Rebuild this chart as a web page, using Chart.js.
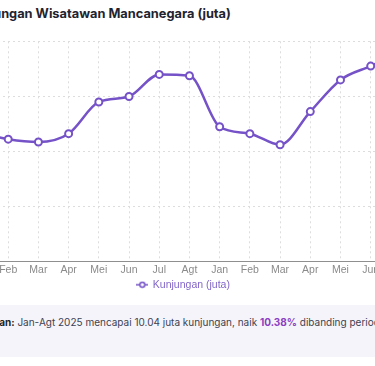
<!DOCTYPE html>
<html lang="id">
<head>
<meta charset="utf-8">
<title>Kunjungan Wisatawan Mancanegara</title>
<script src="https://cdn.jsdelivr.net/npm/chart.js@4.4.1/dist/chart.umd.min.js"></script>
<style>
    html, body {
        margin: 0;
        padding: 0;
        width: 375px;
        height: 366px;
        overflow: hidden;
        background: #ffffff;
        font-family: "Inter", "Noto Sans", sans-serif;
    }
    h3 {
        position: absolute;
        left: -35px;
        top: 6px;
        margin: 0;
        font-size: 12.8px;
        font-weight: 700;
        color: #1f2430;
        white-space: nowrap;
    }
    .chart-box {
        position: absolute;
        left: -74px;
        top: 32px;
        width: 515px;
        height: 268px;
    }
    .note {
        position: absolute;
        left: -60px;
        top: 305px;
        width: 620px;
        height: 52px;
        background: #f6f4fb;
        border-radius: 8px;
        font-size: 10px;
        color: #3d4250;
        white-space: nowrap;
    }
    .note p {
        margin: 0;
        position: absolute;
        left: 32px;
        top: 11px;
    }
    .note b { color: #222; }
    .note .up { color: #8a3fc0; font-weight: 700; }
</style>
</head>
<body>
<h3>Kunjungan Wisatawan Mancanegara (juta)</h3>
<div class="chart-box">
    <canvas id="touristChart"></canvas>
</div>
<div class="note">
    <p><b>Temuan:</b> Jan-Agt 2025 mencapai 10.04 juta kunjungan, naik <span class="up">10.38%</span> dibanding periode yang sama tahun lalu.</p>
</div>

<script>
// Data bulanan (juta kunjungan)
const months = ['Jan', 'Feb', 'Mar', 'Apr', 'Mei', 'Jun', 'Jul', 'Agt',
                'Jan', 'Feb', 'Mar', 'Apr', 'Mei', 'Jun', 'Jul', 'Agt'];
const visits = [1.07, 1.045, 1.035, 1.065, 1.18, 1.20, 1.28, 1.275,
                1.09, 1.065, 1.025, 1.145, 1.26, 1.31, 1.36, 1.38];
const yTicks = [0.6, 0.8, 1.0, 1.2, 1.4];

const purple = '#7552c7';

// small legend marker: line through a hollow circle
function legendMarker() {
    const c = document.createElement('canvas');
    c.width = 12;
    c.height = 8;
    const g = c.getContext('2d');
    g.strokeStyle = purple;
    g.lineWidth = 1.5;
    g.beginPath();
    g.moveTo(0, 4);
    g.lineTo(12, 4);
    g.stroke();
    g.fillStyle = '#fff';
    g.beginPath();
    g.arc(6, 4, 2.5, 0, Math.PI * 2);
    g.fill();
    g.stroke();
    return c;
}

document.addEventListener('DOMContentLoaded', function () {
    Chart.defaults.font.family = '"Liberation Sans", Arial, sans-serif';
    Chart.defaults.font.size = 10.5;

    const ctx = document.getElementById('touristChart').getContext('2d');
    new Chart(ctx, {
        type: 'line',
        data: {
            labels: months,
            datasets: [{
                label: 'Kunjungan (juta)',
                data: visits,
                borderColor: purple,
                backgroundColor: purple,
                borderWidth: 2.5,
                cubicInterpolationMode: 'monotone',
                tension: 0.4,
                pointRadius: 3.5,
                pointBorderWidth: 2,
                pointBackgroundColor: '#ffffff',
                pointBorderColor: purple
            }]
        },
        options: {
            responsive: true,
            maintainAspectRatio: false,
            animation: false,
            layout: { padding: 0 },
            plugins: {
                legend: {
                    position: 'bottom',
                    labels: {
                        color: '#8266c9',
                        usePointStyle: true,
                        pointStyle: legendMarker(),
                        padding: 1
                    }
                },
                tooltip: { enabled: false }
            },
            scales: {
                x: {
                    grid: { color: '#dddddd', drawTicks: false },
                    border: { color: '#8f8f8f', dash: [2, 3] },
                    ticks: { color: '#8a8a8a', padding: 2 }
                },
                y: {
                    min: yTicks[0],
                    max: yTicks[yTicks.length - 1],
                    afterFit: function (scale) { scale.width = 52; },
                    afterBuildTicks: function (scale) {
                        scale.ticks = yTicks.map(v => ({ value: v }));
                    },
                    grid: { color: '#dddddd', drawTicks: false },
                    border: { display: false, dash: [2, 3] },
                    ticks: { color: '#8a8a8a', callback: v => v.toFixed(1) }
                }
            }
        }
    });
});
</script>
</body>
</html>
